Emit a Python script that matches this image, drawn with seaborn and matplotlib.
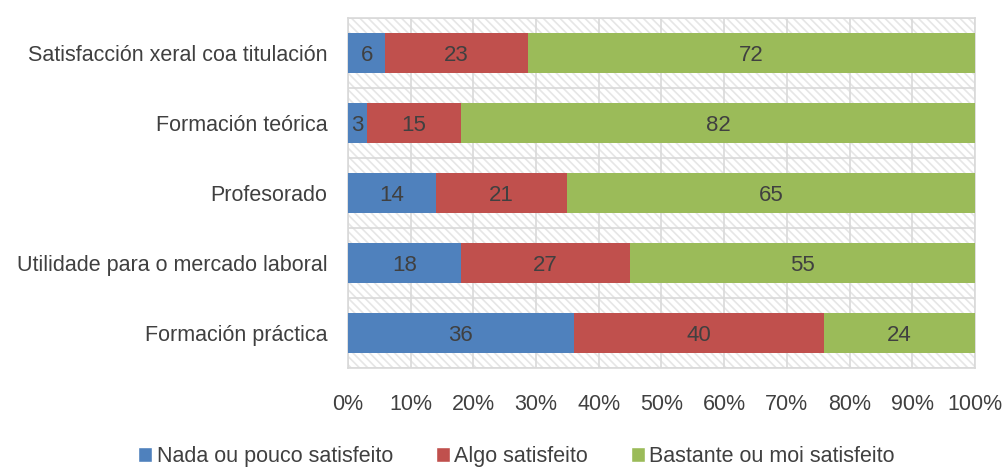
import numpy as np
import pandas as pd
import matplotlib
matplotlib.use("Agg")
import matplotlib.pyplot as plt
import seaborn as sns
from matplotlib.patches import Rectangle, Patch

# === Datos ===
categorias = ["Satisfacción xeral coa titulación", "Formación teórica", "Profesorado",
              "Utilidade para o mercado laboral", "Formación práctica"]
nada = [6, 3, 14, 18, 36]
algo = [23, 15, 21, 27, 40]
bastante = [72, 82, 65, 55, 24]
series = ["Nada ou pouco satisfeito", "Algo satisfeito", "Bastante ou moi satisfeito"]
cores = ["#4F81BD", "#C0504D", "#9BBB59"]
xticks = [0, 10, 20, 30, 40, 50, 60, 70, 80, 90, 100]

sns.set_style("white")
plt.rcParams['font.family'] = ['Liberation Sans', 'DejaVu Sans']
texto = "#404040"

df = pd.DataFrame({"cat": categorias, "nada": nada, "algo": algo, "bastante": bastante})
total = df[["nada", "algo", "bastante"]].sum(axis=1)
df["p1"] = df["nada"] / total * 100
df["p2"] = (df["nada"] + df["algo"]) / total * 100
df["p3"] = 100.0

fig = plt.figure(figsize=(10.03, 4.67), dpi=100)
ax = fig.add_axes([0.347, 0.212, 0.625, 0.7495])

# fondo rayado
plt.rcParams['hatch.linewidth'] = 1.2
ax.add_patch(Rectangle((0, 0), 1, 1, transform=ax.transAxes, facecolor="white",
                       edgecolor="#E6E6E6", hatch="\\\\\\\\", linewidth=0, zorder=0))

# barras apiladas (de atrás para adiante)
for col, cor in zip(["p3", "p2", "p1"], cores[::-1]):
    sns.barplot(data=df, x=col, y="cat", color=cor, orient="h", width=0.57,
                saturation=1, linewidth=0, ax=ax, zorder=3)

# etiquetas
for i in range(len(df)):
    lefts = [0, df["p1"][i], df["p2"][i]]
    rights = [df["p1"][i], df["p2"][i], 100]
    for v, l, r in zip([nada[i], algo[i], bastante[i]], lefts, rights):
        ax.text((l + r) / 2, i, str(v), ha="center", va="center_baseline", fontsize=16,
                color=texto, zorder=5)

ax.set_xlim(0, 100)
ax.set_ylim(len(df) - 0.5, -0.5)
ax.set_xticks(xticks)
ax.set_xticklabels([f"{t}%" for t in xticks])
ax.set_xlabel("")
ax.set_ylabel("")
for x in xticks:
    ax.axvline(x, color="#D9D9D9", lw=1.2, zorder=1)
for y in np.arange(-0.5, len(df), 1):
    ax.axhline(y, color="#D9D9D9", lw=1.2, zorder=1)
for s in ax.spines.values():
    s.set_color("#D9D9D9")
    s.set_linewidth(1.2)
ax.tick_params(axis="both", length=0, labelsize=15.5, colors=texto)
ax.tick_params(axis="y", pad=15)
ax.tick_params(axis="x", pad=19)

handles = [Patch(facecolor=c, label=s) for s, c in zip(series, cores)]
fig.legend(handles=handles, loc="lower center", bbox_to_anchor=(0.515, -0.042), ncol=3,
           frameon=False, fontsize=15.5, handlelength=0.65, handleheight=0.65,
           handletextpad=0.2, columnspacing=2.0, labelcolor=texto)

plt.savefig("out.png", dpi=100)
